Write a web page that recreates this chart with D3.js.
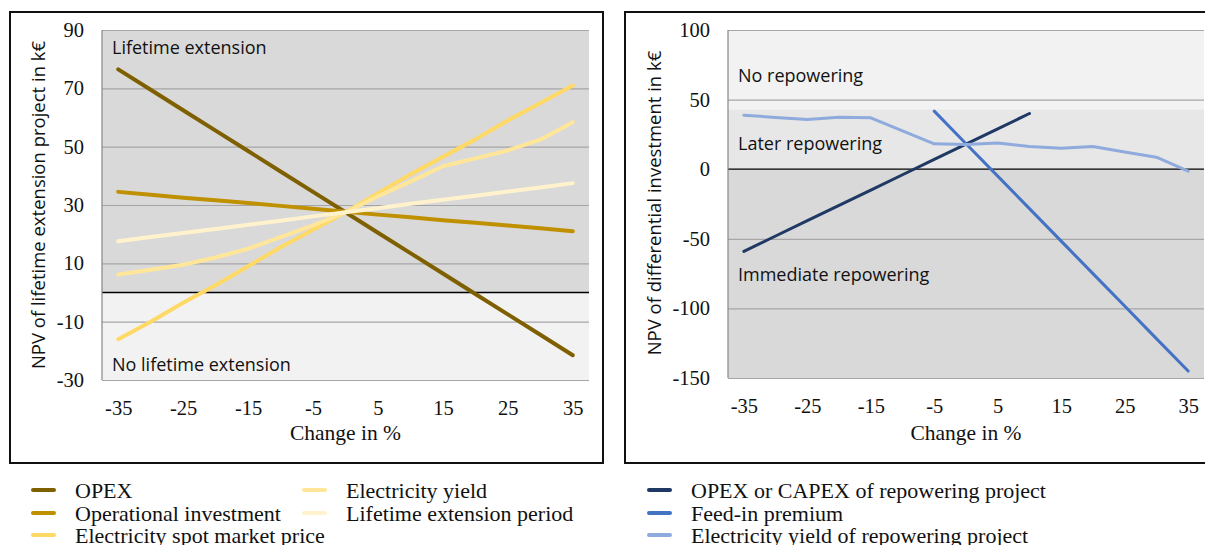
<!DOCTYPE html>
<html>
<head>
<meta charset="utf-8">
<script src="https://cdn.jsdelivr.net/npm/d3@7"></script>
<style>
  html, body { margin: 0; padding: 0; background: #fff; }
  svg { display: block; }
</style>
</head>
<body>
<div id="viz"></div>
<script>
// Sensitivity analysis: x = change in %, 15 categories
const categories = [-35, -30, -25, -20, -15, -10, -5, 0, 5, 10, 15, 20, 25, 30, 35];
const xTickLabels = [-35, -25, -15, -5, 5, 15, 25, 35];

// Left panel: NPV of lifetime extension project (k€)
const leftTicks = [-30, -10, 10, 30, 50, 70, 90];
const opex = [76.5, 69.5, 62.5, 55.5, 48.5, 41.5, 34.5, 27.5, 20.5, 13.5, 6.5, -0.5, -7.5, -14.5, -21.5];
const opInvest = [34.5, 33.5, 32.5, 31.6, 30.7, 29.7, 28.7, 27.7, 26.7, 25.8, 24.8, 23.9, 23, 22, 21];
const spotPrice = [-16, -10, -3.5, 2.5, 9, 15.5, 21.5, 27.5, 34, 40.5, 46.5, 52.5, 59, 65, 71];
const elecYield = [6.2, 7.8, 9.5, 12, 15, 19, 23, 27.5, 33, 38, 43.3, 46, 48.7, 52.4, 58.4];
const extPeriod = [17.6, 19, 20.4, 21.8, 23.2, 24.6, 26.1, 27.5, 28.9, 30.4, 31.8, 33.2, 34.6, 36, 37.5];
const leftNames = ["OPEX", "Operational investment", "Electricity spot market price", "Electricity yield", "Lifetime extension period"];
const leftColors = ["#7f6000", "#bf9000", "#ffd966", "#ffe699", "#fff2cc"];
const leftBands = [[0, 90, "#d9d9d9"], [-30, 0, "#f2f2f2"]];
const leftRegions = [["Lifetime extension", 81.8], ["No lifetime extension", -26.8]];

// Right panel: NPV of differential investment (k€)
const rightTicks = [-150, -100, -50, 0, 50, 100];
const opexCapex = [-59, -48, -37, -26, -15, -4, 7, 18, 29, 40, null, null, null, null, null];
const feedIn = [null, null, null, null, null, null, 41.7, 18.3, -5, -28.3, -51.7, -75, -98.3, -121.7, -145];
const repYield = [38.8, 37.2, 35.7, 37.4, 36.9, 27.5, 18.2, 17.7, 18.9, 16.3, 15.1, 16.3, 12.4, 8.6, -1.4];
const rightNames = ["OPEX or CAPEX of repowering project", "Feed-in premium", "Electricity yield of repowering project"];
const rightColors = ["#203864", "#4472c4", "#8faadc"];
const rightBands = [[43, 100, "#f2f2f2"], [0, 43, "#e7e7e7"], [-150, 0, "#d9d9d9"]];
const rightRegions = [["No repowering", 62.5], ["Later repowering", 13.5], ["Immediate repowering", -80.5]];

const W = 1205, H = 545;
const svg = d3.select("#viz").append("svg").attr("width", W).attr("height", H);

const serif = "'Liberation Serif', 'Times New Roman', serif";
const sans = "'Open Sans', Lato, sans-serif";

function panel(cfg) {
  const { box, plot, ticks, series, colors, bands, regions, title, lw } = cfg;

  svg.append("rect")
    .attr("x", box[0]).attr("y", box[1]).attr("width", box[2]).attr("height", box[3])
    .attr("fill", "none").attr("stroke", "#111").attr("stroke-width", 2);

  const x = d3.scalePoint().domain(categories).range([plot.x0, plot.x1]).padding(0.5);
  const y = d3.scaleLinear().domain(d3.extent(ticks)).range([plot.y1, plot.y0]);

  const g = svg.append("g");

  // background bands
  g.selectAll("rect.band").data(bands).join("rect")
    .attr("class", "band")
    .attr("x", plot.x0).attr("width", plot.x1 - plot.x0)
    .attr("y", d => y(d[1])).attr("height", d => y(d[0]) - y(d[1]))
    .attr("fill", d => d[2]);

  // gridlines
  g.append("g")
    .attr("transform", `translate(${plot.x0},0)`)
    .call(d3.axisLeft(y).tickValues(ticks.filter(t => t !== 0)).tickSize(-(plot.x1 - plot.x0)).tickFormat(""))
    .call(a => a.select(".domain").remove())
    .call(a => a.selectAll("line").attr("stroke", "#a6a6a6").attr("stroke-width", 1.2));

  // zero line
  g.append("line")
    .attr("x1", plot.x0).attr("x2", plot.x1).attr("y1", y(0)).attr("y2", y(0))
    .attr("stroke", "#000").attr("stroke-width", 1.3);

  // vertical axis line
  g.append("line")
    .attr("x1", plot.x0).attr("x2", plot.x0).attr("y1", plot.y0).attr("y2", plot.y1)
    .attr("stroke", "#868686").attr("stroke-width", 1.2);

  // region labels
  g.selectAll("text.region").data(regions).join("text")
    .attr("class", "region")
    .attr("x", plot.x0 + 10).attr("y", d => y(d[1]))
    .attr("font-family", sans).attr("font-size", 18).attr("fill", "#111")
    .text(d => d[0]);

  // y tick labels
  g.append("g")
    .attr("transform", `translate(${plot.x0 - 18},0)`)
    .call(d3.axisLeft(y).tickValues(ticks).tickSize(0).tickPadding(0).tickFormat(d => String(d)))
    .call(a => a.select(".domain").remove())
    .call(a => a.selectAll("text").attr("font-family", serif).attr("font-size", 20.5).attr("fill", "#111").attr("dy", "0.32em"));

  // x tick labels
  g.append("g")
    .attr("transform", `translate(0,${plot.y1 + 20})`)
    .call(d3.axisBottom(x).tickValues(xTickLabels).tickSize(0).tickPadding(0).tickFormat(d => String(d)))
    .call(a => a.select(".domain").remove())
    .call(a => a.selectAll("text").attr("font-family", serif).attr("font-size", 20.5).attr("fill", "#111").attr("dy", "0.71em"));

  // x axis title
  g.append("text")
    .attr("x", (plot.x0 + plot.x1) / 2).attr("y", 440)
    .attr("text-anchor", "middle")
    .attr("font-family", serif).attr("font-size", 21.5).attr("fill", "#111")
    .text("Change in %");

  // y axis title
  g.append("text")
    .attr("transform", `translate(${title.x},${title.y}) rotate(-90)`)
    .attr("text-anchor", "middle")
    .attr("font-family", sans).attr("font-size", 18.5).attr("fill", "#111")
    .text(title.text);

  // lines
  const line = d3.line()
    .defined(d => d.v !== null)
    .x(d => x(d.c)).y(d => y(d.v));

  series.forEach((s, i) => {
    g.append("path")
      .datum(categories.map((c, j) => ({ c, v: s[j] })))
      .attr("fill", "none")
      .attr("stroke", colors[i])
      .attr("stroke-width", lw)
      .attr("stroke-linejoin", "round")
      .attr("stroke-linecap", "round")
      .attr("d", line);
  });
}

panel({
  box: [10, 12, 593, 451],
  plot: { x0: 102, x1: 589, y0: 30, y1: 380 },
  ticks: leftTicks,
  series: [opex, opInvest, spotPrice, elecYield, extPeriod],
  colors: leftColors, bands: leftBands, regions: leftRegions,
  title: { x: 45, y: 205, text: "NPV of lifetime extension project in k€" },
  lw: 4
});

panel({
  box: [625, 12, 590, 451],
  plot: { x0: 728, x1: 1204, y0: 30, y1: 378 },
  ticks: rightTicks,
  series: [opexCapex, feedIn, repYield],
  colors: rightColors, bands: rightBands, regions: rightRegions,
  title: { x: 661, y: 203, text: "NPV of differential investment in k€" },
  lw: 3
});

// legend
const legendCols = [
  { x: 31, names: leftNames.slice(0, 3), colors: leftColors.slice(0, 3) },
  { x: 302, names: leftNames.slice(3), colors: leftColors.slice(3) },
  { x: 647, names: rightNames, colors: rightColors }
];
const rowY = [490, 513, 535];

legendCols.forEach(col => {
  const lg = svg.append("g").attr("transform", `translate(${col.x},0)`);
  col.names.forEach((n, i) => {
    lg.append("line")
      .attr("x1", 2).attr("x2", 23).attr("y1", rowY[i]).attr("y2", rowY[i])
      .attr("stroke", col.colors[i]).attr("stroke-width", 4).attr("stroke-linecap", "round");
    lg.append("text")
      .attr("x", 44).attr("y", rowY[i] + 7.5)
      .attr("font-family", serif).attr("font-size", 22).attr("fill", "#111")
      .text(n);
  });
});
</script>
</body>
</html>
